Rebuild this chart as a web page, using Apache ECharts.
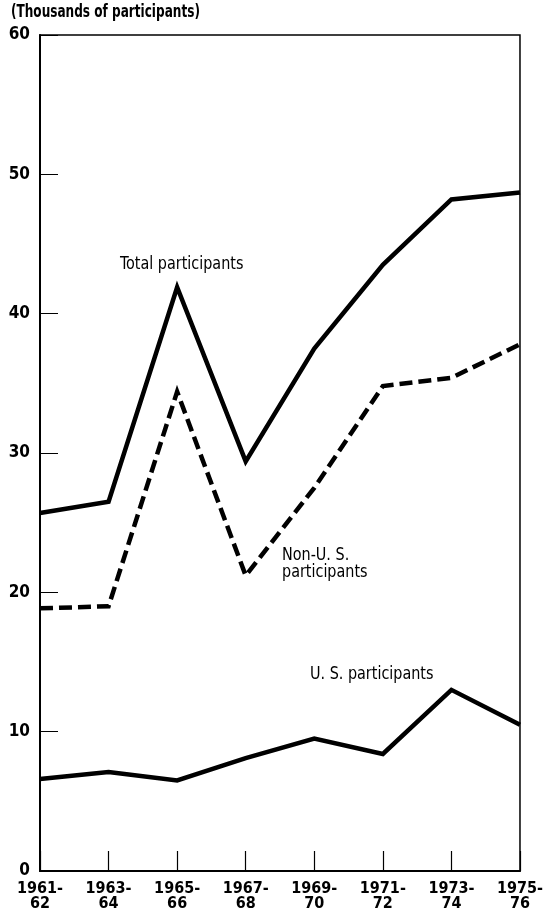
<!DOCTYPE html>
<html>
<head>
<meta charset="utf-8">
<script src="https://cdn.jsdelivr.net/npm/echarts@6/dist/echarts.min.js"></script>
<style>
html,body{margin:0;padding:0;background:#fff;}
#chart{width:546px;height:919px;}
</style>
</head>
<body>
<div id="chart"></div>
<script>
const categories = ['1961-\n62','1963-\n64','1965-\n66','1967-\n68','1969-\n70','1971-\n72','1973-\n74','1975-\n76'];
const totalParticipants = [25.7, 26.5, 41.9, 29.4, 37.5, 43.5, 48.2, 48.7];
const nonUSParticipants = [18.85, 19.0, 34.4, 21.2, 27.5, 34.8, 35.4, 37.8];
const usParticipants = [6.6, 7.1, 6.5, 8.1, 9.5, 8.4, 13.0, 10.5];
const yTicks = { min: 0, max: 60, interval: 10 };
const unitTitle = '(Thousands of participants)';

const FONT = '"DejaVu Sans Condensed", "Liberation Sans", sans-serif';

const chart = echarts.init(document.getElementById('chart'), null, {renderer: 'canvas'});
const option = {
  backgroundColor: '#fff',
  animation: false,
  grid: {left: 40, right: 23, top: 35, bottom: 48, show: true, borderColor: '#000', borderWidth: 1.5, backgroundColor: 'transparent'},
  xAxis: {
    type: 'category',
    data: categories,
    boundaryGap: false,
    axisLine: {show: true, lineStyle: {color: '#000', width: 2}},
    axisTick: {show: true, inside: true, length: 20, lineStyle: {color: '#000', width: 1.2}},
    axisLabel: {color: '#000', fontFamily: FONT, fontWeight: 'bold', fontSize: 16, lineHeight: 15, margin: 10, interval: 0}
  },
  yAxis: {
    type: 'value',
    min: yTicks.min, max: yTicks.max, interval: yTicks.interval,
    splitLine: {show: false},
    axisLine: {show: true, lineStyle: {color: '#000', width: 2}},
    axisTick: {show: true, inside: true, length: 18, lineStyle: {color: '#000', width: 1}},
    axisLabel: {color: '#000', fontFamily: FONT, fontWeight: 'bold', fontSize: 17, margin: 10}
  },
  series: [
    {name: 'Total participants', type: 'line', data: totalParticipants, symbol: 'none',
     lineStyle: {color: '#000', width: 4.5, cap: 'butt', join: 'miter'}},
    {name: 'Non-U.S. participants', type: 'line', data: nonUSParticipants, symbol: 'none',
     lineStyle: {color: '#000', width: 4.5, type: [13, 6], cap: 'butt', join: 'miter'}},
    {name: 'U.S. participants', type: 'line', data: usParticipants, symbol: 'none',
     lineStyle: {color: '#000', width: 4.5, cap: 'butt', join: 'miter'}}
  ],
  graphic: [
    {type: 'text', x: 11, y: 4, scaleX: 0.79, style: {text: unitTitle, fill: '#000', font: 'bold 17px ' + FONT}},
    {type: 'text', x: 120, y: 256, scaleX: 0.94, style: {text: 'Total participants', fill: '#000', font: '17px ' + FONT}},
    {type: 'text', x: 282, y: 547, scaleX: 0.94, style: {text: 'Non-U. S.\nparticipants', fill: '#000', font: '17px ' + FONT, lineHeight: 17}},
    {type: 'text', x: 310, y: 666, scaleX: 0.94, style: {text: 'U. S. participants', fill: '#000', font: '17px ' + FONT}}
  ]
};
chart.setOption(option);
</script>
</body>
</html>
